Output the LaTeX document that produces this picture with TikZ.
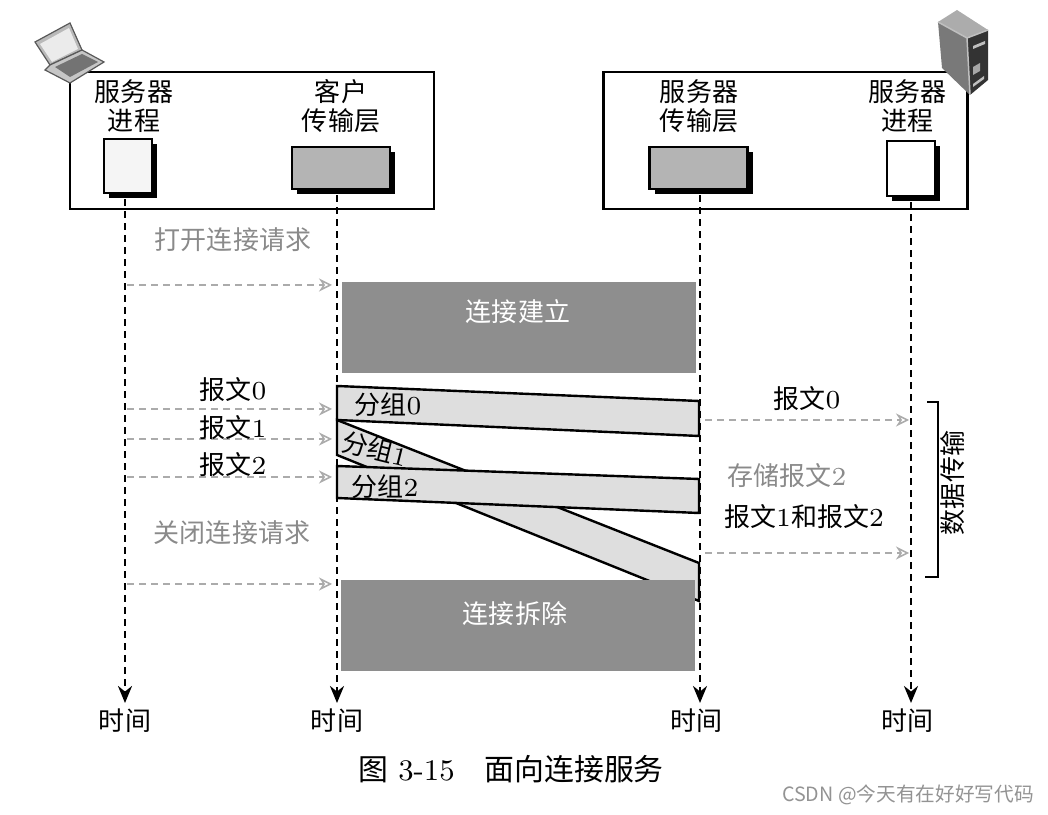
\documentclass[tikz,border=0pt]{standalone}
\usepackage{fontspec}
\usepackage{tikz}
\usetikzlibrary{arrows.meta,shadows}
\newfontfamily\cjk{Noto Sans CJK SC}
\definecolor{barfill}{HTML}{8E8E8E}
\definecolor{pktfill}{HTML}{DEDEDE}
\definecolor{layerfill}{HTML}{B4B4B4}
\definecolor{msggray}{HTML}{ABABAB}
\definecolor{notegray}{HTML}{8A8A8A}
\newcommand{\zh}[1]{{\cjk #1}}

\begin{document}
\begin{tikzpicture}[
  >={Stealth[length=1.7mm,width=1.4mm]},
  hostbox/.style={draw, line width=0.022cm, minimum width=3.64cm, minimum height=1.37cm},
  entity/.style={draw, line width=0.022cm, drop shadow={shadow xshift=0.05cm,
    shadow yshift=-0.05cm, fill=black, opacity=1}},
  lab/.style={align=center, inner sep=0pt, font=\fontsize{7.4}{8.3}\selectfont},
  bar/.style={fill=barfill, minimum width=3.54cm, minimum height=0.91cm, inner sep=0pt},
  barlab/.style={lab, text=white},
  pkt/.style={draw, fill=pktfill, line width=0.024cm},
  lifeline/.style={->, line width=0.026cm, dash pattern=on 0.07cm off 0.05cm},
  msg/.style={->, msggray, line width=0.015cm, dash pattern=on 0.07cm off 0.05cm,
    >={Stealth[length=1.3mm,width=1.3mm,open]}}
]
\useasboundingbox (0,0) rectangle (10.48,8.14);
% the two hosts
\node[hostbox] (client) at (2.52,6.735) {};
\node[hostbox] (server) at (7.855,6.735) {};
\node[entity, fill=white!96!black, minimum width=0.48cm, minimum height=0.54cm] (cproc) at (1.28,6.48) {};
\node[entity, fill=layerfill, minimum width=0.98cm, minimum height=0.42cm] (ctrans) at (3.41,6.46) {};
\node[entity, fill=layerfill, minimum width=0.98cm, minimum height=0.42cm] (strans) at (6.985,6.46) {};
\node[entity, fill=white, minimum width=0.48cm, minimum height=0.55cm] (sproc) at (9.11,6.455) {};
% laptop
\filldraw[fill=gray!55, draw=gray!70!black, line width=0.012cm] (0.35,7.72) -- (0.70,7.91) -- (0.82,7.64) -- (0.50,7.49) -- cycle;
\fill[white!92!black] (0.40,7.70) -- (0.69,7.86) -- (0.78,7.65) -- (0.52,7.52) -- cycle;
\filldraw[fill=gray!45, draw=gray!70!black, line width=0.012cm] (0.50,7.49) -- (0.82,7.64) -- (1.04,7.52) -- (0.70,7.31) -- (0.45,7.44) -- cycle;
\fill[gray!90!black] (0.55,7.47) -- (0.82,7.60) -- (0.98,7.52) -- (0.70,7.37) -- cycle;
% server
\fill[gray!65] (9.38,7.92) -- (9.57,8.04) -- (9.88,7.84) -- (9.67,7.76) -- cycle;
\fill[gray!95!black] (9.38,7.92) -- (9.67,7.76) -- (9.70,7.19) -- (9.42,7.46) -- cycle;
\fill[black!80] (9.67,7.76) -- (9.88,7.84) -- (9.88,7.34) -- (9.70,7.19) -- cycle;
\draw[white!75!black, line width=0.015cm] (9.38,7.92) -- (9.67,7.76) -- (9.88,7.84) (9.67,7.76) -- (9.70,7.19);
\fill[gray!70] (9.73,7.47) -- (9.80,7.51) -- (9.80,7.43) -- (9.73,7.39) -- cycle;
\fill[gray!50] (9.73,7.68) -- (9.85,7.73) -- (9.85,7.70) -- (9.73,7.65) -- cycle;
\fill[gray!50] (9.73,7.30) -- (9.84,7.38) -- (9.84,7.35) -- (9.73,7.27) -- cycle;
% host captions
\node[lab] (cproclab) at (1.34,7.08) {\zh{服务器}\\ \zh{进程}};
\node[lab] (ctranslab) at (3.41,7.08) {\zh{客户}\\ \zh{传输层}};
\node[lab] (stranslab) at (6.99,7.08) {\zh{服务器}\\ \zh{传输层}};
\node[lab] (sproclab) at (9.07,7.08) {\zh{服务器}\\ \zh{进程}};
% the four time lines
\node[lab] (tcproc) at (1.25,0.93) {\zh{时间}};
\node[lab] (tctrans) at (3.37,0.93) {\zh{时间}};
\node[lab] (tstrans) at (6.96,0.93) {\zh{时间}};
\node[lab] (tsproc) at (9.07,0.93) {\zh{时间}};
\coordinate (ecproc) at (1.25,1.11);
\coordinate (ectrans) at (3.37,1.11);
\coordinate (estrans) at (7.00,1.11);
\coordinate (esproc) at (9.11,1.11);
\draw[lifeline] ([yshift=-0.05cm]cproc.south -| ecproc) -- (ecproc);
\draw[lifeline] ([yshift=-0.05cm]ctrans.south -| ectrans) -- (ectrans);
\draw[lifeline] ([yshift=-0.05cm]strans.south -| estrans) -- (estrans);
\draw[lifeline] ([yshift=-0.05cm]sproc.south -| esproc) -- (esproc);
% packets, the delayed one first
\filldraw[pkt] (3.37,3.94) -- (6.99,2.51) -- (6.99,2.13) -- (3.37,3.59) -- cycle;
\node[bar] (setup) at (5.185,4.865) {};
\node[bar] (teardown) at (5.18,1.885) {};
\draw[line width=0.024cm] (6.99,2.51) -- (6.99,2.13);
\filldraw[pkt] (3.37,4.28) -- (6.99,4.13) -- (6.99,3.78) -- (3.37,3.94) -- cycle;
\filldraw[pkt] (3.37,3.48) -- (6.99,3.35) -- (6.99,3.01) -- (3.37,3.16) -- cycle;
\node[barlab] (setuplab) at (5.18,5.02) {\zh{连接建立}};
\node[barlab] (teardownlab) at (5.15,2.00) {\zh{连接拆除}};
\node[lab] (pkt0) at (3.88,4.09) {\zh{分组}0};
\node[lab, rotate=-14] (pkt1) at (3.75,3.65) {\zh{分组}1};
\node[lab] (pkt2) at (3.85,3.27) {\zh{分组}2};
% messages from the process to the transport layer
\foreach \nm/\y in {mopen/5.29, mzero/4.05, mone/3.75, mtwo/3.37, mclose/2.30} {
  \coordinate (\nm a) at (1.27,\y);
  \coordinate (\nm b) at (3.32,\y);
  \draw[msg] (\nm a) -- (\nm b);
}
% and out at the far side
\foreach \nm/\y in {dzero/3.94, dtwo/2.61} {
  \coordinate (\nm a) at (7.05,\y);
  \coordinate (\nm b) at (9.09,\y);
  \draw[msg] (\nm a) -- (\nm b);
}
\node[lab, text=notegray] (openlab) at (2.33,5.74) {\zh{打开连接请求}};
\node[lab] (m0lab) at (2.33,4.24) {\zh{报文}0};
\node[lab] (m1lab) at (2.33,3.86) {\zh{报文}1};
\node[lab] (m2lab) at (2.33,3.49) {\zh{报文}2};
\node[lab, text=notegray] (closelab) at (2.32,2.81) {\zh{关闭连接请求}};
\node[lab] (d0lab) at (8.07,4.15) {\zh{报文}0};
\node[lab, text=notegray] (storelab) at (7.87,3.38) {\zh{存储报文}2};
\node[lab] (d12lab) at (8.04,2.97) {\zh{报文}1\zh{和报文}2};
% data transfer bracket
\draw[line width=0.022cm] (9.27,4.12) -- (9.38,4.12) -- (9.38,2.37) -- (9.25,2.37);
\node[lab, rotate=90] (datalab) at (9.53,3.31) {\zh{数据传输}};
% caption and mark
\node[lab, font=\fontsize{8.5}{10}\selectfont] (caption) at (5.11,0.45) {\zh{图} 3-15\quad \zh{面向连接服务}};
\node[lab, font=\fontsize{5.6}{7}\selectfont, text=gray!85] (mark) at (9.08,0.19) {\zh{CSDN @今天有在好好写代码}};
\end{tikzpicture}
\end{document}
